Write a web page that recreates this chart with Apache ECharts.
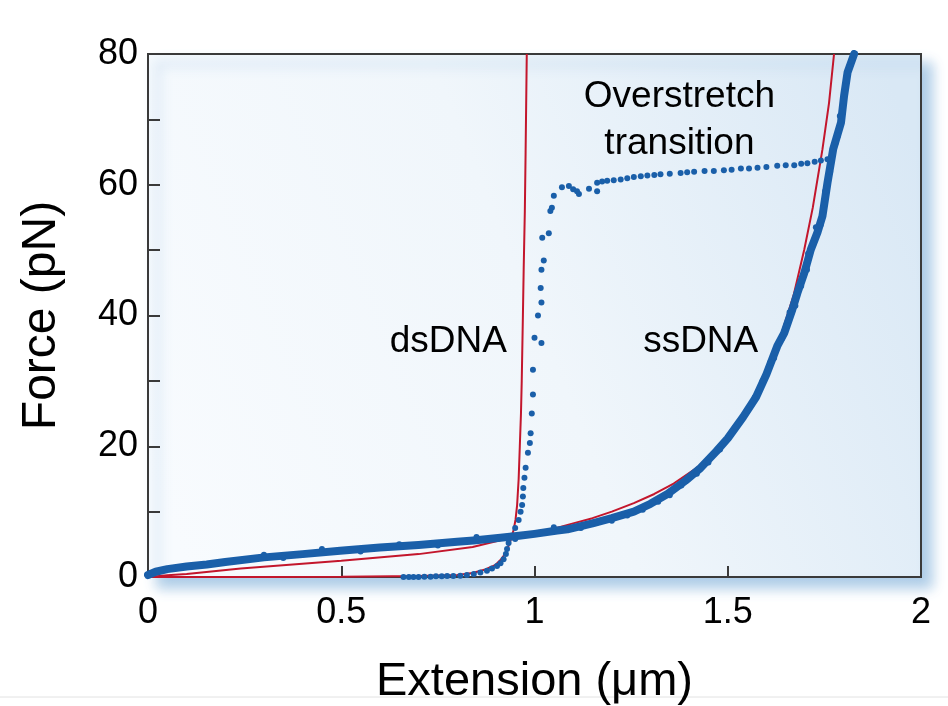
<!DOCTYPE html>
<html>
<head>
<meta charset="utf-8">
<script src="https://cdn.jsdelivr.net/npm/echarts@6/dist/echarts.min.js"></script>
<style>
  html, body { margin: 0; padding: 0; background: #ffffff; }
  #chart { width: 948px; height: 706px; }
</style>
</head>
<body>
<div id="chart"></div>
<script>
// Worm-like-chain fit for double-stranded DNA (extension in µm, force in pN)
const dsModelExt   = [0, 0.3, 0.5, 0.7, 0.8, 0.84, 0.87, 0.89, 0.9, 0.912, 0.922, 0.93, 0.938, 0.946, 0.951, 0.955, 0.959, 0.962, 0.965, 0.967, 0.970, 0.972, 0.975, 0.977, 0.980];
const dsModelForce = [0, 0, 0.05, 0.15, 0.3, 0.6, 1.1, 1.6, 1.9, 2.6, 3.4, 4.3, 5.6, 7.2, 8.8, 11, 15, 20, 25, 30, 40, 47, 56, 65, 80];

// Freely-jointed-chain fit for single-stranded DNA
const ssModelExt   = [0, 0.05, 0.1, 0.24, 0.5, 0.7, 0.84, 0.93, 1.0, 1.05, 1.1, 1.15, 1.2, 1.257, 1.31, 1.36, 1.42, 1.474, 1.52, 1.55, 1.6, 1.637, 1.67, 1.698, 1.72, 1.745, 1.762, 1.775];
const ssModelForce = [0, 0.25, 0.45, 1.3, 2.5, 3.5, 4.6, 5.9, 6.7, 7.4, 8.2, 9.0, 10.0, 11.3, 12.7, 14.3, 16.7, 19.5, 22.8, 25.5, 31.0, 36.8, 43.0, 50.1, 56.5, 65.4, 72.5, 80];

// Measured ssDNA stretching curve (dense trace, centre of the band)
const ssDataExt   = [0, 0.02, 0.05, 0.1, 0.152, 0.2, 0.3, 0.4, 0.497, 0.6, 0.7, 0.8, 0.842, 0.912, 0.96, 1.0, 1.059, 1.085, 1.15, 1.2, 1.257, 1.3, 1.344, 1.39, 1.43, 1.47, 1.5, 1.54, 1.573, 1.6, 1.628, 1.646, 1.667, 1.68, 1.698, 1.715, 1.732, 1.745, 1.758, 1.773, 1.793, 1.801, 1.81, 1.827];
const ssDataForce = [0.3, 0.8, 1.2, 1.6, 1.9, 2.3, 3.0, 3.5, 4.0, 4.5, 4.9, 5.4, 5.6, 6.0, 6.3, 6.6, 7.1, 7.3, 8.2, 9.0, 10.0, 11.2, 12.7, 14.7, 16.7, 19.2, 21.2, 24.5, 27.5, 31.0, 35.3, 37.3, 40.9, 43.4, 46.5, 50.1, 52.7, 55.2, 60.3, 65.5, 69.5, 73.6, 77.2, 80];

// Individual ssDNA readings that stray off the band
const ssStrayExt   = [0.3, 0.35, 0.45, 0.55, 0.65, 0.75, 0.85, 0.95, 1.05, 1.12, 1.2, 1.24, 1.28, 1.32, 1.35, 1.38, 1.42, 1.45, 1.48, 1.52, 1.55, 1.57, 1.59, 1.61, 1.62, 1.64, 1.652, 1.66, 1.675, 1.69, 1.705, 1.708, 1.722, 1.728, 1.74, 1.75, 1.752, 1.765, 1.768, 1.78, 1.785, 1.79, 1.798, 1.805, 1.815, 1.82];
const ssStrayForce = [3.4, 2.9, 4.3, 3.9, 5.0, 4.8, 6.1, 5.8, 7.6, 7.5, 8.6, 9.4, 10.3, 11.5, 12.5, 14.0, 15.8, 17.5, 19.5, 23.0, 25.5, 27.5, 30.0, 32.8, 33.5, 36.5, 38.5, 40.5, 41.5, 44.5, 47.0, 49.5, 51.0, 53.5, 53.8, 57.0, 59.0, 62.0, 63.5, 66.5, 67.5, 70.5, 72.0, 75.0, 78.0, 79.0];

// Measured dsDNA pull through the overstretching plateau
const dsDataExt   = [0.661, 0.675, 0.687, 0.70, 0.715, 0.731, 0.745, 0.76, 0.774, 0.79, 0.808, 0.825, 0.843, 0.86, 0.877, 0.89, 0.903, 0.912, 0.920, 0.926, 0.929, 0.933, 0.94, 0.95, 0.959, 0.964, 0.968, 0.970, 0.971, 0.974, 0.977, 0.983, 0.988, 0.990, 0.993, 0.996, 0.996, 1.0, 1.018, 1.009, 1.018, 1.016, 1.018, 1.024, 1.020, 1.037, 1.041, 1.045, 1.050, 1.071, 1.089, 1.100, 1.110, 1.115, 1.141, 1.162, 1.162, 1.175, 1.188, 1.205, 1.223, 1.24, 1.257, 1.275, 1.292, 1.31, 1.326, 1.35, 1.378, 1.395, 1.413, 1.44, 1.464, 1.49, 1.51, 1.534, 1.555, 1.577, 1.60, 1.628, 1.65, 1.672, 1.69, 1.706, 1.725, 1.741, 1.758];
const dsDataForce = [0, 0, 0, 0, 0.05, 0.05, 0.1, 0.1, 0.15, 0.15, 0.2, 0.3, 0.45, 0.7, 0.95, 1.3, 1.7, 2.1, 2.7, 3.5, 4.3, 5.2, 6.3, 7.5, 8.7, 10, 11, 12.3, 13.6, 15.2, 16.7, 19, 20.5, 22, 25, 27.9, 31.7, 36.6, 35.8, 40, 42, 44.2, 47, 48.4, 51.9, 52.6, 56.0, 56.5, 58.3, 59.6, 59.8, 59.3, 59.0, 58.6, 59.4, 60.3, 59.0, 60.5, 60.6, 60.7, 60.8, 61.0, 61.2, 61.3, 61.4, 61.5, 61.6, 61.7, 61.8, 61.9, 62.0, 62.1, 62.1, 62.2, 62.3, 62.5, 62.5, 62.6, 62.7, 62.9, 63.0, 63.0, 63.2, 63.3, 63.5, 63.7, 63.9];

// Annotations placed in data coordinates
const noteText  = ['dsDNA', 'ssDNA', 'Overstretch\ntransition'];
const noteExt   = [0.777, 1.43, 1.375];
const noteForce = [36.0, 36.0, 69.9];

const zip = (xs, ys) => xs.map((x, i) => [x, ys[i]]);

const BLUE = '#1a5fa9';
const RED = '#c3162c';
const INK = '#000000';
const FONT = '"Liberation Sans", Arial, Helvetica, sans-serif';

const chart = echarts.init(document.getElementById('chart'), null, { renderer: 'canvas' });

chart.setOption({
  backgroundColor: '#ffffff',
  animation: false,
  textStyle: { fontFamily: FONT },
  grid: {
    left: 148, right: 27, top: 54, bottom: 129,
    outerBoundsMode: 'none',
    containLabel: false,
    show: true,
    borderColor: '#3a3a3a',
    borderWidth: 2,
    backgroundColor: new echarts.graphic.LinearGradient(0, 0.8, 1, 0.2, [
      { offset: 0, color: '#f8fbfe' },
      { offset: 0.5, color: '#f0f6fb' },
      { offset: 1, color: '#d9e8f5' }
    ]),
    shadowColor: 'rgba(150, 190, 225, 0.8)',
    shadowBlur: 12,
    shadowOffsetX: 10,
    shadowOffsetY: 10
  },
  xAxis: {
    type: 'value',
    min: 0, max: 2, interval: 0.5,
    name: 'Extension (μm)',
    nameLocation: 'middle',
    nameGap: 82,
    nameTextStyle: { fontSize: 47, color: INK, fontFamily: FONT },
    axisLine: { show: true, lineStyle: { color: '#3a3a3a', width: 2 } },
    axisTick: { show: true, inside: true, length: 11, lineStyle: { color: '#3a3a3a', width: 2 } },
    axisLabel: { fontSize: 36, color: INK, margin: 18, fontFamily: FONT, showMinLabel: true, showMaxLabel: true },
    splitLine: { show: false }
  },
  yAxis: {
    type: 'value',
    min: 0, max: 80, interval: 10,
    name: 'Force (pN)',
    nameLocation: 'middle',
    nameGap: 82,
    nameTextStyle: { fontSize: 48, color: INK, fontFamily: FONT },
    axisLine: { show: true, lineStyle: { color: '#3a3a3a', width: 2 } },
    axisTick: { show: true, inside: true, length: 12, lineStyle: { color: '#3a3a3a', width: 2 } },
    axisLabel: {
      fontSize: 36, color: INK, margin: 10, fontFamily: FONT,
      showMinLabel: true, showMaxLabel: true,
      formatter: v => (v % 20 === 0 ? String(v) : '')
    },
    splitLine: { show: false }
  },
  series: [
    {
      name: 'dsDNA model',
      type: 'line',
      data: zip(dsModelExt, dsModelForce),
      showSymbol: false,
      smooth: false,
      lineStyle: { color: RED, width: 2 },
      z: 2
    },
    {
      name: 'ssDNA model',
      type: 'line',
      data: zip(ssModelExt, ssModelForce),
      showSymbol: false,
      smooth: false,
      lineStyle: { color: RED, width: 2 },
      z: 2
    },
    {
      name: 'ssDNA data',
      type: 'line',
      data: zip(ssDataExt, ssDataForce),
      showSymbol: false,
      smooth: false,
      lineStyle: { color: BLUE, width: 8, cap: 'round', join: 'round' },
      z: 3
    },
    {
      name: 'ssDNA stray',
      type: 'scatter',
      data: zip(ssStrayExt, ssStrayForce),
      symbol: 'circle',
      symbolSize: 6,
      itemStyle: { color: BLUE, opacity: 1 },
      z: 3
    },
    {
      name: 'dsDNA data',
      type: 'scatter',
      data: zip(dsDataExt, dsDataForce),
      symbol: 'circle',
      symbolSize: 6,
      itemStyle: { color: BLUE, opacity: 1 },
      z: 4
    },
    {
      name: 'notes',
      type: 'scatter',
      data: noteText.map((t, i) => ({ value: [noteExt[i], noteForce[i]], name: t })),
      symbolSize: 0,
      silent: true,
      itemStyle: { opacity: 1 },
      label: {
        show: true,
        position: 'inside',
        formatter: p => p.name,
        fontSize: 37,
        lineHeight: 47,
        color: INK,
        textBorderWidth: 0,
        fontFamily: FONT,
        align: 'center',
        verticalAlign: 'middle'
      },
      z: 5
    }
  ],
  graphic: [
    {
      type: 'line',
      shape: { x1: 0, y1: 697, x2: 948, y2: 697 },
      style: { stroke: '#e2e2e2', lineWidth: 1 },
      silent: true
    }
  ]
});
</script>
</body>
</html>
